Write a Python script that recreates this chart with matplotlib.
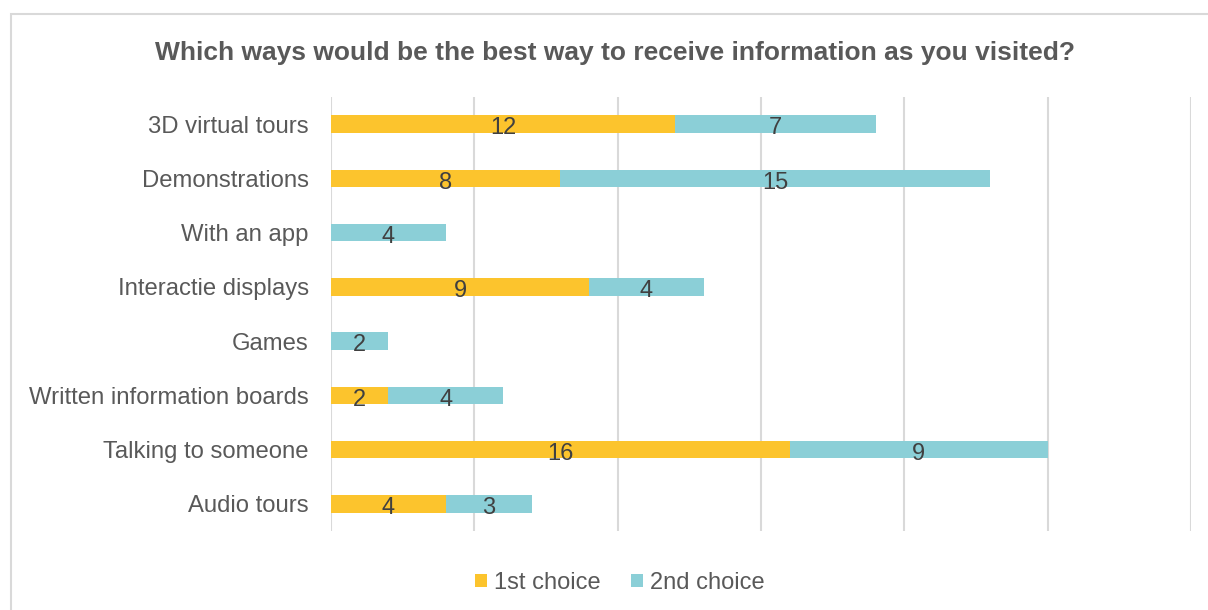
import matplotlib
matplotlib.use("Agg")
import matplotlib.pyplot as plt
from matplotlib.patches import Rectangle, Patch

plt.rcParams['font.family'] = ['Liberation Sans', 'DejaVu Sans']

categories = ["3D virtual tours", "Demonstrations", "With an app", "Interactie displays",
              "Games", "Written information boards", "Talking to someone", "Audio tours"]
first_choice = [12, 8, 0, 9, 0, 2, 16, 4]
second_choice = [7, 15, 4, 4, 2, 4, 9, 3]
series_names = ["1st choice", "2nd choice"]
colors = ["#FCC42D", "#8BCFD7"]
title = "Which ways would be the best way to receive information as you visited?"

W, H = 1208, 610
fig = plt.figure(figsize=(W / 100, H / 100), dpi=100)

# outer chart frame
fig.patches.append(Rectangle((11 / W, -0.02), 1.05, 1 - 14 / H + 0.02, transform=fig.transFigure,
                             fill=False, edgecolor="#D9D9D9", linewidth=1.5, zorder=0))

left, right, top, bottom = 331, 1191, 97, 531
ax = fig.add_axes([left / W, 1 - bottom / H, (right - left) / W, (bottom - top) / H])

y = list(range(len(categories)))
bar_h = 0.32
ax.barh(y, first_choice, height=bar_h, color=colors[0], zorder=2)
ax.barh(y, second_choice, left=first_choice, height=bar_h, color=colors[1], zorder=2)

lab_color = "#404040"
for i, (a, b) in enumerate(zip(first_choice, second_choice)):
    if a:
        ax.text(a / 2, i + 0.03, str(a), ha="center", va="center_baseline", fontsize=17,
                color=lab_color, zorder=3)
    if b:
        ax.text(a + b / 2, i + 0.03, str(b), ha="center", va="center_baseline", fontsize=17,
                color=lab_color, zorder=3)

ax.set_xlim(0, 30)
ax.set_ylim(len(categories) - 0.5, -0.5)
ax.set_xticks(range(0, 31, 5))
ax.set_xticklabels([])
ax.tick_params(axis="x", length=0)
ax.tick_params(axis="y", length=0, pad=16, labelsize=17.2, labelcolor="#595959")
ax.set_yticks(y)
ax.set_yticklabels(categories)
ax.grid(axis="x", color="#D9D9D9", linewidth=1.5, zorder=1)
for s in ax.spines.values():
    s.set_visible(False)

fig.text(615 / W, 1 - 53 / H, title, ha="center", va="center", fontsize=19,
         fontweight="bold", color="#595959")

handles = [Patch(facecolor=c, label=n) for c, n in zip(colors, series_names)]
fig.legend(handles=handles, loc="center", bbox_to_anchor=(620 / W, 1 - 583 / H), ncol=2,
           frameon=False, fontsize=17, labelcolor="#595959", handlelength=0.5,
           handleheight=0.5, handletextpad=0.3, columnspacing=1.3)

fig.savefig("out.png", dpi=100, facecolor="white")
